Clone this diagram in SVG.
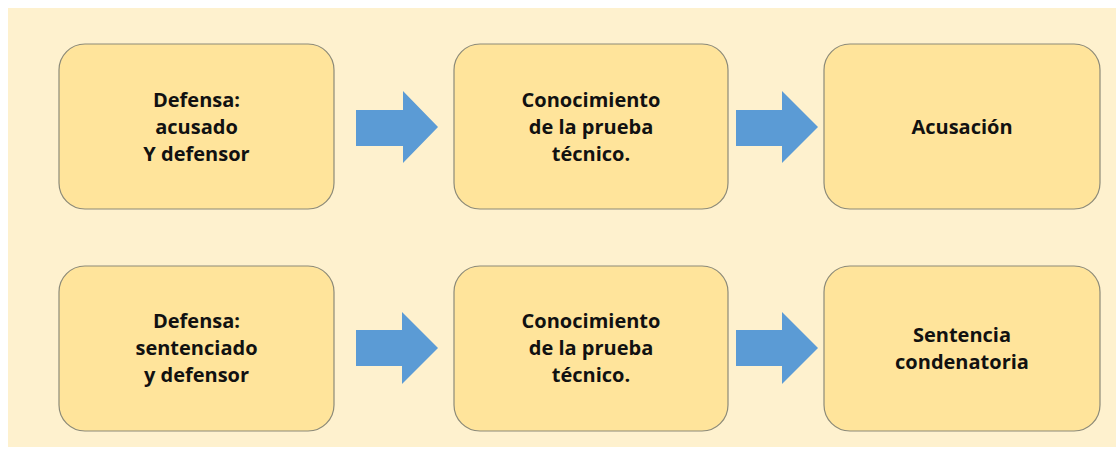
<svg xmlns="http://www.w3.org/2000/svg" width="1116" height="454" viewBox="0 0 1116 454">
<style>
.box{fill:#FFE49B;stroke:#8C8A78;stroke-width:1.2}
.arr{fill:#5B9BD5}
text{font-family:"Open Sans","Liberation Sans",sans-serif;font-weight:700;font-size:20px;fill:#111;text-anchor:middle}
</style>
<rect x="0" y="0" width="1116" height="454" fill="#ffffff"/>
<rect x="8" y="8" width="1108" height="439" fill="#FEF1CE"/>
<g id="n1"><rect class="box" x="59" y="44" width="275" height="165" rx="26"/>
<text x="196.5" y="107">Defensa:</text><text x="196.5" y="134">acusado</text><text x="196.5" y="161">Y defensor</text></g>
<g id="n2"><rect class="box" x="454" y="44" width="274" height="165" rx="26"/>
<text x="591" y="107">Conocimiento</text><text x="591" y="134">de la prueba</text><text x="591" y="161">técnico.</text></g>
<g id="n3"><rect class="box" x="824" y="44" width="276" height="165" rx="26"/>
<text x="962" y="134">Acusación</text></g>
<g id="n4"><rect class="box" x="59" y="266" width="275" height="165" rx="26"/>
<text x="196.5" y="328">Defensa:</text><text x="196.5" y="355">sentenciado</text><text x="196.5" y="382">y defensor</text></g>
<g id="n5"><rect class="box" x="454" y="266" width="274" height="165" rx="26"/>
<text x="591" y="328">Conocimiento</text><text x="591" y="355">de la prueba</text><text x="591" y="382">técnico.</text></g>
<g id="n6"><rect class="box" x="824" y="266" width="276" height="165" rx="26"/>
<text x="962" y="342">Sentencia</text><text x="962" y="369">condenatoria</text></g>
<g id="connectors">
<path class="arr" d="M356 110 H403 V91 L438 127 L403 163 V146 H356 Z"/>
<path class="arr" d="M736 110 H782 V91 L818 127 L782 163 V146 H736 Z"/>
<path class="arr" d="M356 330 H402 V312 L438 348 L402 384 V366 H356 Z"/>
<path class="arr" d="M736 330 H782 V312 L818 348 L782 384 V366 H736 Z"/>
</g>
</svg>
